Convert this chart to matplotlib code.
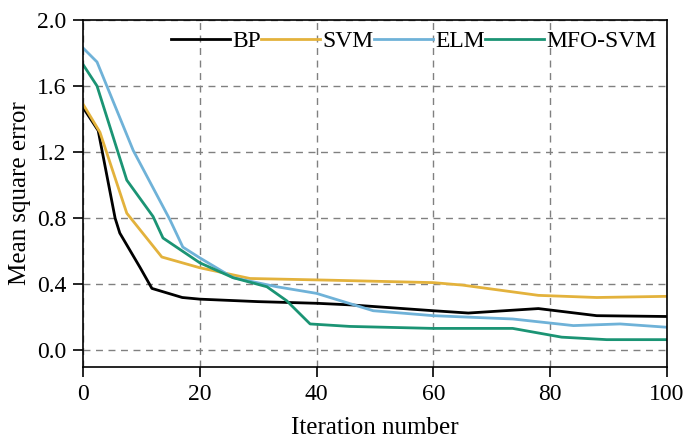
import matplotlib
matplotlib.use("Agg")
import matplotlib.pyplot as plt

plt.rcParams["font.family"] = ["Liberation Serif", "DejaVu Serif"]

bp_x = [0, 2.6, 5.5, 6.3, 9.8, 11.8, 17, 20, 30, 40, 46, 60, 66, 78, 88, 100]
bp_y = [1.47, 1.33, 0.80, 0.71, 0.50, 0.375, 0.32, 0.31, 0.295, 0.285, 0.275, 0.24, 0.226, 0.253, 0.21, 0.205]

svm_x = [0, 2.9, 7.5, 13.5, 20, 28.6, 42, 60, 65, 78, 88, 100]
svm_y = [1.49, 1.32, 0.83, 0.565, 0.50, 0.435, 0.425, 0.41, 0.395, 0.333, 0.32, 0.327]

elm_x = [0, 2.4, 8.6, 14.9, 17.1, 20, 25.7, 33.2, 40, 42.3, 49.7, 60, 73.6, 84, 92, 100]
elm_y = [1.83, 1.745, 1.21, 0.79, 0.625, 0.56, 0.44, 0.385, 0.345, 0.32, 0.24, 0.21, 0.19, 0.15, 0.16, 0.14]

mfo_x = [0, 2.4, 7.5, 12, 13.7, 20, 25.7, 31.5, 34.9, 38.9, 45.7, 60, 73.6, 82, 89.7, 100]
mfo_y = [1.73, 1.60, 1.03, 0.81, 0.68, 0.53, 0.44, 0.385, 0.30, 0.16, 0.145, 0.133, 0.133, 0.08, 0.065, 0.065]

fig = plt.figure(figsize=(6.86, 4.41), dpi=100)
ax = fig.add_axes([0.121, 0.168, 0.851, 0.787])

ax.plot(bp_x, bp_y, color="black", lw=2, label="BP")
ax.plot(svm_x, svm_y, color="#e3b23c", lw=2, label="SVM")
ax.plot(elm_x, elm_y, color="#6fb2d8", lw=2, label="ELM")
ax.plot(mfo_x, mfo_y, color="#1b9474", lw=2, label="MFO-SVM")

ax.set_xlim(0, 100)
ax.set_ylim(-0.1, 2.0)
ax.set_xticks([0, 20, 40, 60, 80, 100])
ax.set_yticks([0.0, 0.4, 0.8, 1.2, 1.6, 2.0])
ax.set_yticklabels(["0.0", "0.4", "0.8", "1.2", "1.6", "2.0"])
ax.grid(True, linestyle=(0, (5, 4)), color="#808080", lw=1)
ax.tick_params(direction="out", length=7, width=1.2, labelsize=17, pad=5)
for s in ax.spines.values():
    s.set_linewidth(1.2)

ax.set_xlabel("Iteration number", fontsize=18, labelpad=9)
ax.set_ylabel("Mean square error", fontsize=18, labelpad=4)

ax.legend(loc="upper right", ncol=4, frameon=False, fontsize=17,
          handlelength=2.5, handletextpad=0.1, columnspacing=0.0,
          borderaxespad=0.05, bbox_to_anchor=(1.0, 1.0))

fig.savefig("out.png", dpi=100)
